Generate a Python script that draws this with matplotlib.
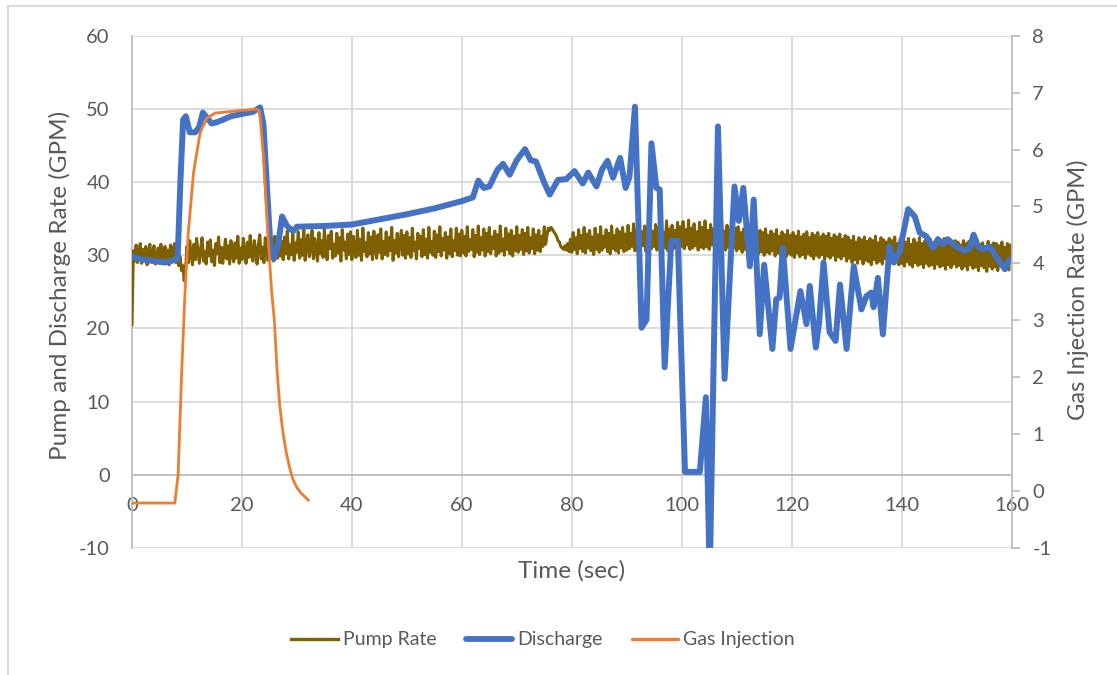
import numpy as np
import matplotlib
matplotlib.use("Agg")
import matplotlib.pyplot as plt
from matplotlib.lines import Line2D

plt.rcParams['font.family'] = ['Lato', 'DejaVu Sans']
plt.rcParams['axes.unicode_minus'] = False

# ---- data -------------------------------------------------------------
# Pump rate logged every 0.25 s from 0 to 160 s (40 samples per 10 s row)
pump_rate = [
    20.5, 30.6, 29.2, 31.4, 29.0, 30.2, 31.6, 28.9, 30.8, 29.5, 31.2, 28.7, 30.4, 31.5, 29.3, 30.0, 31.3, 28.8, 29.9, 31.0,
    29.2, 31.5, 30.1, 28.9, 31.2, 29.6, 30.7, 28.7, 31.4, 29.4, 30.9, 31.6, 29.0, 30.3, 28.6, 29.8, 27.9, 28.6, 26.5, 28.2,
    31.2, 29.0, 32.0, 30.1, 28.7, 31.5, 29.4, 32.3, 30.6, 28.9, 31.0, 32.4, 29.2, 30.5, 28.8, 31.8, 29.9, 32.1, 29.1, 30.7,
    28.6, 31.6, 30.2, 32.5, 29.0, 31.1, 28.9, 30.4, 32.2, 29.5, 31.3, 28.8, 32.0, 30.0, 29.1, 31.7, 29.6, 32.6, 28.9, 31.0,
    29.4, 32.3, 30.3, 28.9, 31.8, 29.7, 32.7, 30.1, 29.2, 32.0, 30.6, 28.8, 31.5, 32.8, 29.5, 31.1, 29.0, 32.4, 30.4, 29.3,
    33.1, 30.0, 31.6, 29.2, 32.6, 30.8, 29.6, 33.0, 29.9, 31.9, 29.4, 32.5, 30.2, 33.3, 29.5, 31.4, 30.1, 32.9, 29.3, 31.7,
    30.4, 33.2, 29.6, 32.1, 30.0, 33.5, 29.3, 31.6, 32.8, 29.8, 31.0, 33.4, 29.5, 32.3, 30.6, 29.2, 33.1, 30.2, 32.0, 29.7,
    33.6, 30.5, 29.4, 32.7, 30.9, 33.3, 29.6, 31.5, 29.9, 33.0, 30.3, 32.4, 29.2, 33.5, 30.7, 31.8, 29.5, 32.9, 30.1, 33.2,
    29.4, 32.6, 30.8, 29.7, 33.4, 30.0, 32.2, 29.3, 33.7, 30.5, 31.7, 29.8, 33.1, 30.2, 32.5, 29.4, 33.3, 31.0, 29.6, 32.8,
    30.4, 33.6, 29.5, 31.9, 30.1, 33.2, 29.9, 32.4, 30.6, 33.8, 29.3, 32.0, 30.3, 33.0, 29.8, 31.6, 33.4, 30.0, 32.7, 29.6,
    33.2, 30.2, 32.4, 29.7, 33.7, 30.6, 31.8, 29.5, 33.0, 30.9, 32.6, 29.8, 33.5, 30.1, 32.2, 29.6, 33.8, 30.4, 31.9, 30.0,
    33.3, 29.7, 32.8, 30.5, 33.9, 29.9, 32.3, 30.7, 33.1, 29.6, 32.5, 30.2, 33.6, 29.8, 32.0, 30.6, 33.7, 30.0, 32.9, 29.9,
    33.4, 30.3, 32.6, 29.9, 33.9, 30.5, 32.1, 30.8, 33.5, 29.8, 32.7, 30.4, 34.0, 30.1, 32.4, 30.7, 33.6, 29.9, 33.0, 30.5,
    33.8, 30.2, 32.5, 30.9, 33.3, 29.9, 32.8, 30.3, 34.0, 30.6, 32.2, 30.0, 33.7, 30.8, 32.9, 30.2, 33.4, 29.9, 32.6, 30.6,
    33.9, 30.4, 32.7, 30.8, 33.5, 30.1, 33.0, 30.6, 33.8, 30.3, 32.4, 30.9, 33.6, 30.2, 32.8, 30.7, 33.4, 30.5, 32.6, 31.2,
    33.9, 31.5, 32.8, 33.7, 33.4, 33.8, 33.5, 33.2, 32.9, 32.6, 32.0, 31.8, 31.2, 31.0, 30.8, 31.3, 30.7, 31.6, 30.5, 32.2,
    30.4, 33.1, 30.8, 32.4, 30.2, 33.5, 30.9, 32.7, 30.5, 33.8, 30.3, 32.9, 31.0, 33.4, 30.6, 32.5, 30.1, 33.7, 30.8, 32.8,
    30.4, 33.9, 30.7, 32.6, 31.1, 33.5, 30.5, 33.0, 30.2, 34.0, 30.9, 32.7, 30.6, 33.6, 30.3, 33.2, 31.0, 33.8, 30.5, 32.9,
    30.7, 34.1, 30.9, 33.0, 31.2, 34.3, 30.6, 33.5, 31.0, 34.5, 30.8, 33.2, 31.3, 34.0, 30.5, 33.7, 31.1, 34.6, 30.9, 33.3,
    31.2, 34.2, 30.7, 33.8, 31.4, 34.4, 30.8, 33.1, 31.0, 34.7, 30.6, 33.6, 31.3, 34.1, 30.9, 33.4, 31.1, 34.5, 30.7, 33.9,
    31.2, 34.6, 30.9, 33.5, 31.4, 34.8, 30.8, 33.7, 31.0, 34.3, 31.3, 33.2, 30.7, 34.5, 31.1, 33.8, 30.9, 34.7, 31.2, 33.4,
    30.8, 34.2, 31.4, 33.6, 30.6, 34.4, 31.0, 33.9, 30.9, 34.6, 31.2, 33.3, 30.7, 34.1, 31.1, 33.5, 30.6, 34.3, 31.0, 33.7,
    30.6, 33.9, 30.9, 33.1, 30.4, 33.6, 30.8, 32.8, 30.3, 33.7, 30.6, 33.0, 30.1, 33.5, 30.7, 32.9, 30.2, 33.4, 30.5, 33.1,
    30.0, 33.6, 30.4, 32.7, 30.2, 33.3, 30.6, 32.9, 29.9, 33.5, 30.3, 32.6, 30.1, 33.2, 30.5, 32.8, 29.8, 33.4, 30.2, 32.7,
    30.0, 33.1, 29.7, 32.6, 30.3, 33.3, 29.8, 32.5, 30.1, 32.9, 29.6, 33.2, 30.2, 32.4, 29.9, 33.0, 29.5, 32.7, 30.0, 33.1,
    29.7, 32.5, 30.1, 32.9, 29.4, 32.6, 29.9, 33.0, 29.6, 32.3, 30.0, 32.8, 29.3, 32.5, 29.8, 32.9, 29.5, 32.2, 29.9, 32.7,
    29.2, 32.5, 29.6, 32.0, 29.0, 32.6, 29.4, 31.8, 28.9, 32.4, 29.5, 32.1, 28.8, 32.5, 29.3, 31.9, 29.1, 32.3, 28.7, 32.0,
    29.4, 32.6, 28.9, 31.7, 29.2, 32.4, 28.8, 32.1, 29.5, 31.8, 28.6, 32.3, 29.1, 32.0, 28.9, 32.5, 29.3, 31.6, 28.7, 32.2,
    28.9, 32.1, 28.5, 31.8, 29.1, 32.3, 28.7, 31.5, 28.4, 32.2, 29.0, 31.7, 28.6, 32.4, 28.8, 31.6, 28.3, 32.0, 28.9, 31.8,
    28.5, 32.2, 28.7, 31.4, 28.2, 31.9, 28.8, 32.1, 28.4, 31.6, 28.6, 32.3, 28.1, 31.7, 28.7, 31.9, 28.3, 31.5, 28.8, 32.0,
    28.4, 31.8, 28.6, 31.4, 28.1, 32.0, 28.5, 31.6, 28.0, 31.9, 28.7, 31.3, 28.2, 31.8, 28.4, 32.1, 27.9, 31.5, 28.6, 31.7,
    28.3, 31.2, 27.8, 31.9, 28.5, 31.4, 28.1, 31.7, 28.4, 31.6, 27.9, 31.3, 28.6, 31.8, 28.2, 31.1, 28.5, 31.6, 28.0, 31.4,
    29.5,
]
pump_time = np.arange(len(pump_rate)) * 0.25

discharge_time = [
    0, 2, 4, 6, 7.5, 8.3, 8.8, 9.3, 9.8, 10.5, 11.5, 12.2, 12.9, 13.6, 14.5, 15.5, 16.5, 18, 20, 22,
    23.3, 23.9, 24.5, 25.2, 25.8, 26.6, 27.3, 28.2, 29.3, 30, 35, 40, 45, 50, 55, 58, 60, 62, 63, 64,
    65, 66.5, 67.5, 68.7, 70, 71.5, 72.5, 73.5, 75, 76, 77.5, 79, 80.5, 82, 83, 84.5, 85.5, 86.5, 87.5, 88.8,
    89.8, 90.5, 91.5, 92.7, 93.6, 94.5, 95.4, 96, 96.9, 98.1, 99.3, 100.6, 103.3, 104.4, 105.1, 106.6, 107.8, 109.6, 110.4, 111.2,
    112.4, 113.1, 114.2, 115, 116.5, 117.2, 117.8, 118.4, 119.8, 121.6, 122.7, 123.3, 124.4, 125, 125.8, 126.9, 128, 128.8, 130, 131.3,
    132.7, 133.6, 134.5, 134.9, 135.7, 136.6, 137.8, 138.6, 139.6, 141.2, 142.4, 143.3, 144.5, 145.7, 146.6, 147.5, 148.4, 149.9, 151.5, 152.4,
    153.1, 153.9, 154.8, 156, 157.6, 158.8, 159.6,
]
discharge = [
    29.8, 29.4, 29.2, 29.0, 29.3, 29.5, 40.0, 48.5, 49.0, 46.8, 46.8, 47.5, 49.5, 48.8, 48.0, 48.2, 48.5, 49.0, 49.3, 49.6,
    50.2, 48.0, 40.0, 31.0, 29.5, 31.5, 35.3, 34.0, 33.3, 33.9, 34.0, 34.2, 34.9, 35.6, 36.4, 37.0, 37.4, 37.9, 40.2, 39.2,
    39.4, 41.7, 42.5, 41.0, 43.0, 44.5, 43.0, 42.8, 39.9, 38.3, 40.3, 40.4, 41.5, 39.8, 41.3, 39.4, 41.7, 42.9, 40.6, 43.3,
    39.2, 40.7, 50.3, 20.1, 21.2, 45.3, 39.2, 39.0, 14.7, 31.9, 32.0, 0.4, 0.4, 10.6, -14.0, 47.6, 13.1, 39.4, 34.7, 39.2,
    28.5, 37.6, 19.2, 28.7, 17.2, 24.0, 24.2, 31.0, 17.2, 25.1, 20.6, 25.8, 17.4, 20.8, 29.0, 19.5, 18.3, 26.0, 17.2, 28.5,
    22.6, 24.4, 24.9, 22.9, 26.9, 19.2, 31.2, 29.0, 30.4, 36.3, 35.3, 33.1, 32.6, 31.0, 32.2, 31.5, 32.2, 31.2, 30.6, 31.0,
    32.8, 31.2, 30.8, 31.2, 29.4, 28.1, 29.4,
]

gas_time = [0, 7.8, 8.4, 9.0, 9.6, 10.2, 11.2, 12.4, 13.6, 15.1, 17, 19.1, 22.6, 23.2, 23.9, 24.8,
            25.4, 25.9, 26.4, 26.9, 27.5, 28.1, 28.7, 29.3, 30.0, 30.8, 32.1]
gas_injection = [-0.21, -0.21, 0.3, 2.0, 3.4, 4.5, 5.6, 6.3, 6.55, 6.64, 6.66, 6.68, 6.71, 6.68, 5.9, 4.4,
                 3.5, 3.0, 2.1, 1.48, 1.0, 0.66, 0.4, 0.2, 0.06, -0.04, -0.16]

time_ticks = list(range(0, 161, 20))
left_ticks = list(range(-10, 61, 10))
right_ticks = list(range(-1, 9))

# ---- styling ----------------------------------------------------------
TEXT = '#595959'
GRID = '#D9D9D9'
AXIS = '#BFBFBF'
C_PUMP = '#7F6000'
C_DIS = '#4472C4'
C_GAS = '#ED7D31'

W, H = 1117, 675
fig = plt.figure(figsize=(W / 100, H / 100), dpi=100)
fig.patch.set_facecolor('white')

# chart-area border
fig.add_artist(Line2D([8 / W, 1.0], [1 - 6 / H, 1 - 6 / H], color=GRID, lw=1.5, transform=fig.transFigure))
fig.add_artist(Line2D([8 / W, 8 / W], [0.0, 1 - 6 / H], color=GRID, lw=1.5, transform=fig.transFigure))

left, right, top, bottom = 132, 1011.5, 35.7, 548
ax = fig.add_axes([left / W, 1 - bottom / H, (right - left) / W, (bottom - top) / H])

ax.plot(pump_time, pump_rate, color=C_PUMP, lw=2.2, solid_joinstyle='round', zorder=3)
ax.plot(discharge_time, discharge, color=C_DIS, lw=4.3, solid_joinstyle='round',
        solid_capstyle='round', zorder=4)

ax.set_xlim(0, 160)
ax.set_ylim(-10, 60)
ax.set_xticks(time_ticks)
ax.set_yticks(left_ticks)
ax.grid(True, color=GRID, lw=1.3, zorder=0)
ax.set_axisbelow(True)
for s in ('top', 'right'):
    ax.spines[s].set_visible(False)
ax.spines['left'].set_color(AXIS)
ax.spines['left'].set_linewidth(1.3)
ax.spines['bottom'].set_position(('data', 0))
ax.spines['bottom'].set_color(AXIS)
ax.spines['bottom'].set_linewidth(1.3)
ax.tick_params(axis='x', length=0, pad=16, labelsize=14.5, labelcolor=TEXT)
ax.tick_params(axis='y', length=0, pad=16, labelsize=14.5, labelcolor=TEXT)

ax2 = ax.twinx()
ax2.plot(gas_time, gas_injection, color=C_GAS, lw=2.0, solid_joinstyle='round', zorder=5)
ax2.set_ylim(-1, 8)
ax2.set_yticks(right_ticks)
for s in ('top', 'left', 'bottom'):
    ax2.spines[s].set_visible(False)
ax2.spines['right'].set_color(AXIS)
ax2.spines['right'].set_linewidth(1.3)
ax2.tick_params(axis='y', direction='out', length=6, width=1.3, color=AXIS,
                pad=9, labelsize=14.5, labelcolor=TEXT)

# axis titles
fig.text(60 / W, 1 - 285 / H, 'Pump and Discharge Rate (GPM)', rotation=90,
         ha='center', va='center', fontsize=17.5, color=TEXT)
fig.text(1078 / W, 1 - 290 / H, 'Gas Injection Rate (GPM)', rotation=90,
         ha='center', va='center', fontsize=17, color=TEXT)
fig.text(572 / W, 1 - 571 / H, 'Time (sec)', ha='center', va='center',
         fontsize=17.5, color=TEXT)

handles = [
    Line2D([], [], color=C_PUMP, lw=2.4),
    Line2D([], [], color=C_DIS, lw=4.2, solid_capstyle='round'),
    Line2D([], [], color=C_GAS, lw=2.4, solid_capstyle='round'),
]
fig.legend(handles, ['Pump Rate', 'Discharge', 'Gas Injection'], ncol=3,
           loc='center', bbox_to_anchor=(543 / W, 1 - 640 / H), frameon=False,
           fontsize=14, labelcolor=TEXT, handlelength=2.4, handletextpad=0.25,
           columnspacing=1.5)

fig.savefig('out.png', dpi=100, facecolor='white')
